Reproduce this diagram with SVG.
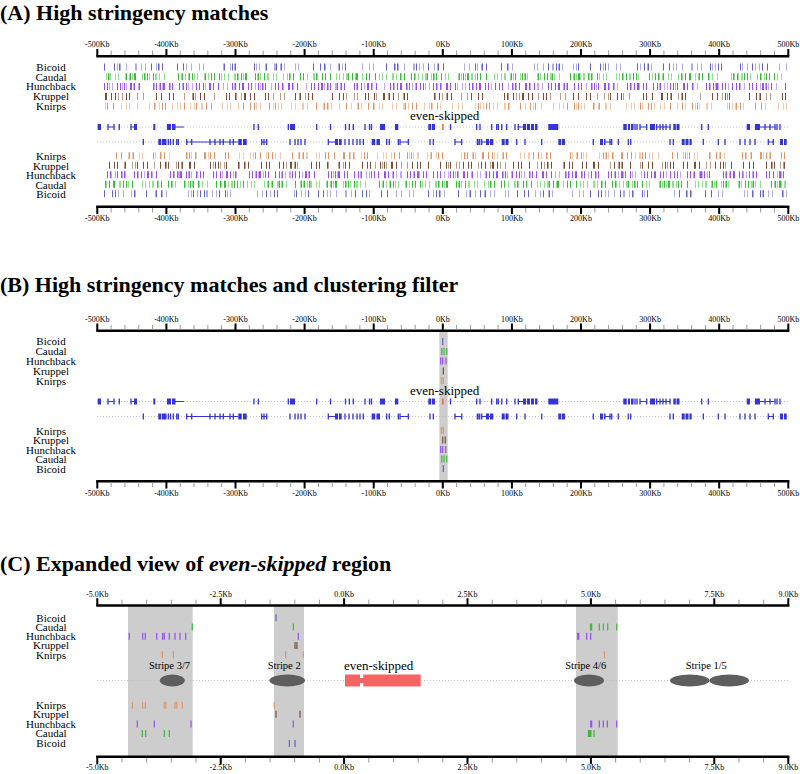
<svg xmlns="http://www.w3.org/2000/svg" width="800" height="774" viewBox="0 0 800 774">
<style>
text{font-family:"Liberation Serif","Times New Roman",serif;fill:#000}
.t{font-size:22px;font-weight:bold}
.ax{font-size:8px;text-anchor:middle}
.rl{font-size:11px;text-anchor:middle}
.sl{font-size:10.5px;text-anchor:middle}
.axl{stroke:#000;stroke-width:2.4;fill:none}
.maj{stroke:#000;stroke-width:2;fill:none}
.mnA{stroke:#9a9a9a;stroke-width:4.5;stroke-dasharray:1 12.82;stroke-dashoffset:0.5;fill:none}
.mnC{stroke:#9a9a9a;stroke-width:4.5;stroke-dasharray:1 23.68;stroke-dashoffset:0.5;fill:none}
.dot{stroke:#b4b4c4;stroke-width:0.8;stroke-dasharray:1 2;fill:none}
.gb{fill:#3434d8}
.gt{stroke:#3434d8;stroke-width:1.3;fill:none}
.gi{stroke:#3434d8;stroke-width:1;fill:none}
.m{stroke-width:7;fill:none}
.s{stroke-width:1.2;fill:none}
.bd{stroke:#6262cc}.bl{stroke:#adade8}
.cd{stroke:#3cb83c}.cl{stroke:#92de92}
.hd{stroke:#9650f0}.hl{stroke:#c6a8f6}
.kd{stroke:#7c4e3a}.kl{stroke:#bc9c8c}
.nd{stroke:#e0956a}.nl{stroke:#f4caae}
.p1{stroke-dasharray:1 4 1 2 1 9 1 3 1 6 2 3 1 15 1 4 1 2 1 7 1 11 1 5 1 3 1 12}
.p2{stroke-dasharray:1 6 1 3 1 21 1 2 1 5 1 8 2 4 1 3 1 10 1 2 1 26 1 4 1 7 1 3 1 19}
.p3{stroke-dasharray:1 2 1 3 1 2 2 4 1 2 1 6 1 3 1 2 1 9 1 2 1 3 1 5 2 2 1 4 1 13}
.p4{stroke-dasharray:1 5 1 2 1 4 1 17 1 3 1 3 2 8 1 2 1 5 1 24 1 3 1 6 1 2 1 12}
.p5{stroke-dasharray:1 9 1 4 1 31 1 6 1 3 1 14 1 5 1 40 1 7 1 2 1 18 1 11}
.band{fill:#cdcdcd}
.enh{fill:#5e5e5e}
.eve{fill:#f56464}
</style>
<defs>
<g id="axesAB">
<line class="axl" x1="96.3" y1="56.2" x2="789.3" y2="56.2"/>
<line class="mnA" x1="97.3" y1="52.7" x2="788.3" y2="52.7"/>
<path class="maj" d="M97.3 49v7.5M166.4 49v7.5M235.5 49v7.5M304.6 49v7.5M373.7 49v7.5M442.8 49v7.5M511.9 49v7.5M581 49v7.5M650.1 49v7.5M719.2 49v7.5M788.3 49v7.5"/>
<g class="ax">
<text x="97.3" y="47.3">-500Kb</text><text x="166.4" y="47.3">-400Kb</text><text x="235.5" y="47.3">-300Kb</text><text x="304.6" y="47.3">-200Kb</text><text x="373.7" y="47.3">-100Kb</text><text x="442.8" y="47.3">0Kb</text><text x="511.9" y="47.3">100Kb</text><text x="581" y="47.3">200Kb</text><text x="650.1" y="47.3">300Kb</text><text x="719.2" y="47.3">400Kb</text><text x="788.3" y="47.3">500Kb</text>
</g>
<line class="axl" x1="96.3" y1="206.7" x2="789.3" y2="206.7"/>
<line class="mnA" x1="97.3" y1="210.2" x2="788.3" y2="210.2"/>
<path class="maj" d="M97.3 206v8M166.4 206v8M235.5 206v8M304.6 206v8M373.7 206v8M442.8 206v8M511.9 206v8M581 206v8M650.1 206v8M719.2 206v8M788.3 206v8"/>
<g class="ax">
<text x="97.3" y="221.3">-500Kb</text><text x="166.4" y="221.3">-400Kb</text><text x="235.5" y="221.3">-300Kb</text><text x="304.6" y="221.3">-200Kb</text><text x="373.7" y="221.3">-100Kb</text><text x="442.8" y="221.3">0Kb</text><text x="511.9" y="221.3">100Kb</text><text x="581" y="221.3">200Kb</text><text x="650.1" y="221.3">300Kb</text><text x="719.2" y="221.3">400Kb</text><text x="788.3" y="221.3">500Kb</text>
</g>
</g>
<g id="labelsAB" class="rl">
<text x="51" y="70.7">Bicoid</text><text x="51" y="80.5">Caudal</text><text x="51" y="90.3">Hunchback</text><text x="51" y="100.2">Kruppel</text><text x="51" y="110">Knirps</text>
<text x="51" y="160">Knirps</text><text x="51" y="169.5">Kruppel</text><text x="51" y="179">Hunchback</text><text x="51" y="188.5">Caudal</text><text x="51" y="198">Bicoid</text>
</g>
<g id="genes">
<line class="dot" x1="97" y1="127" x2="788" y2="127"/>
<line class="dot" x1="97" y1="142" x2="788" y2="142"/>
<path class="gi" d="M108 127H114M131 127H134M175 127H184M518 127H523M640 127H647M656.7 127H670M760 127H775M186.7 142H238.3M328.3 142H335M400 142H408.3M455 142H461.7M481.7 142H490M604 142H611.7M768.3 142H773.3M261.7 142H266.7"/>
<path class="gt" d="M108 124v6M114 124v6M119.3 124v6M131 124v6M254 124v6M258.3 124v6M288.3 124v6M316.7 124v6M330.5 124v6M345.5 124v6M349.3 124v6M353.3 124v6M365 124v6M369.5 124v6M371.5 124v6M450.5 124v6M476.7 124v6M480 124v6M491.7 124v6M496.7 124v6M498.3 124v6M501.7 124v6M506.7 124v6M515 124v6M518.3 124v6M635 124v6M637 124v6M640 124v6M646.7 124v6M656.7 124v6M660 124v6M663 124v6M666 124v6M670 124v6M701.7 124v6M708.3 124v6M765 124v6M770 124v6M775 124v6M777 124v6M780 124v6"/>
<path class="gt" d="M143.3 139v6M168.3 139v6M170.5 139v6M173.3 139v6M176.7 139v6M178.3 139v6M186.7 139v6M191.7 139v6M210 139v6M215 139v6M220 139v6M223.3 139v6M230 139v6M233.3 139v6M261.7 139v6M264 139v6M266.7 139v6M290 139v6M295 139v6M298 139v6M301 139v6M305 139v6M328.3 139v6M345 139v6M349 139v6M353 139v6M357 139v6M360 139v6M363.3 139v6M386.7 139v6M389.3 139v6M398.3 139v6M400 139v6M408.3 139v6M430 139v6M433.3 139v6M455 139v6M461.7 139v6M479.7 139v6M481.7 139v6M516.7 139v6M525 139v6M541.7 139v6M593.3 139v6M610 139v6M611.7 139v6M618.3 139v6M628.3 139v6M630.7 139v6M670 139v6M673.3 139v6M703.3 139v6M718.3 139v6M725 139v6M740 139v6M745 139v6M750 139v6M755 139v6M768.3 139v6M773.3 139v6"/>
<path class="gb" d="M97.7 124h3.3v6h-3.3zM134 124h3v6h-3zM153.3 124h2v6h-2zM167 124h4v6h-4zM172 124h3.5v6h-3.5zM290 124h5v6h-5zM380 124h5v6h-5zM395 124h3.3v6h-3.3zM428.3 124h3v6h-3zM432 124h3v6h-3zM523 124h3v6h-3zM527 124h3v6h-3zM531 124h3v6h-3zM535 124h2.5v6h-2.5zM548.3 124h10v6h-10zM623.3 124h3.5v6h-3.5zM628 124h2v6h-2zM631 124h2.5v6h-2.5zM650 124h5v6h-5zM673.3 124h2.5v6h-2.5zM676.5 124h3v6h-3zM746.7 124h3.3v6h-3.3zM755 124h5v6h-5z"/>
<path class="gb" d="M158.3 139h3v6h-3zM162 139h4.5v6h-4.5zM238.3 139h3.5v6h-3.5zM243 139h3.7v6h-3.7zM335 139h3v6h-3zM339 139h2.7v6h-2.7zM371.7 139h3.5v6h-3.5zM376.5 139h3.5v6h-3.5zM476.7 139h2v6h-2zM486 139h3v6h-3zM490 139h3.3v6h-3.3zM501.7 139h3v6h-3zM505.5 139h3v6h-3zM558.3 139h3v6h-3zM562 139h3v6h-3zM600 139h3v6h-3zM604 139h1.5v6h-1.5zM681.7 139h3v6h-3zM685.5 139h3v6h-3zM689.5 139h2.2v6h-2.2zM780 139h3v6h-3zM784 139h2.7v6h-2.7z"/>
<path d="M442.9 124v6" stroke="#e2704c" stroke-width="1.6" fill="none"/>
<text x="410" y="120" style="font-size:13px">even-skipped</text>
</g>
</defs>

<g id="panelA">
<text class="t" x="0" y="19.5">(A) High stringency matches</text>
<use href="#axesAB"/>
<use href="#labelsAB"/>
<g id="matchesA">
<line class="m bl p2" x1="104" y1="67" x2="787" y2="67" stroke-dashoffset="20"/>
<line class="m bd p5" x1="104" y1="67" x2="787" y2="67" stroke-dashoffset="0"/>
<line class="m cl p3" x1="104" y1="76.8" x2="787" y2="76.8" stroke-dashoffset="5"/>
<line class="m cd p4" x1="104" y1="76.8" x2="787" y2="76.8" stroke-dashoffset="10"/>
<line class="m hl p1" x1="104" y1="86.6" x2="787" y2="86.6" stroke-dashoffset="0"/>
<line class="m hd p3" x1="104" y1="86.6" x2="787" y2="86.6" stroke-dashoffset="30"/>
<line class="m kl p5" x1="104" y1="96.4" x2="787" y2="96.4" stroke-dashoffset="40"/>
<line class="m kd p2" x1="104" y1="96.4" x2="787" y2="96.4" stroke-dashoffset="50"/>
<line class="m nl p1" x1="104" y1="106.2" x2="787" y2="106.2" stroke-dashoffset="33"/>
<line class="m nd p5" x1="104" y1="106.2" x2="787" y2="106.2" stroke-dashoffset="70"/>
<line class="m nl p4" x1="104" y1="155.8" x2="787" y2="155.8" stroke-dashoffset="60"/>
<line class="m nd p2" x1="104" y1="155.8" x2="787" y2="155.8" stroke-dashoffset="90"/>
<line class="m kl p5" x1="104" y1="165.3" x2="787" y2="165.3" stroke-dashoffset="100"/>
<line class="m kd p1" x1="104" y1="165.3" x2="787" y2="165.3" stroke-dashoffset="45"/>
<line class="m hl p4" x1="104" y1="174.8" x2="787" y2="174.8" stroke-dashoffset="77"/>
<line class="m hd p3" x1="104" y1="174.8" x2="787" y2="174.8" stroke-dashoffset="13"/>
<line class="m cl p3" x1="104" y1="184.3" x2="787" y2="184.3" stroke-dashoffset="41"/>
<line class="m cd p4" x1="104" y1="184.3" x2="787" y2="184.3" stroke-dashoffset="31"/>
<line class="m bl p2" x1="104" y1="193.8" x2="787" y2="193.8" stroke-dashoffset="88"/>
<line class="m bd p5" x1="104" y1="193.8" x2="787" y2="193.8" stroke-dashoffset="120"/>
</g>
<use href="#genes"/>
</g>

<g id="panelB">
<text class="t" x="0" y="292">(B) High stringency matches and clustering filter</text>
<rect class="band" x="439.3" y="331" width="8.4" height="150"/>
<use href="#axesAB" transform="translate(0,274.5)"/>
<use href="#labelsAB" transform="translate(0,274.5)"/>
<g id="matchesB">
<path class="s bd" d="M442.7 338v7M443.3 465v7"/>
<path class="s cd" d="M441.7 348v7M444 348v7M446.7 348v7M441.7 455.5v7M444 455.5v7M446.7 455.5v7"/>
<path class="s hd" d="M440.7 357.6v7M442.7 357.6v7M446 357.6v7M440.7 446v7M442.7 446v7M445.7 446v7"/>
<path class="s kd" d="M443.3 367.4v7M442.7 436.5v7M445.3 436.5v7"/>
<path class="s nd" d="M441.3 377.2v7M443.3 377.2v7M441.3 427v7M443.3 427v7"/>
</g>
<use href="#genes" transform="translate(0,274.5)"/>
</g>

<g id="panelC">
<text class="t" x="0" y="570.5">(C) Expanded view of <tspan font-style="italic">even-skipped</tspan> region</text>
<rect class="band" x="128" y="606" width="64.7" height="150"/>
<rect class="band" x="274" y="606" width="30" height="150"/>
<rect class="band" x="576" y="606" width="41.7" height="150"/>
<g id="axisC">
<line class="axl" x1="96.3" y1="605.5" x2="789.3" y2="605.5"/>
<line class="mnC" x1="97.3" y1="602" x2="788.3" y2="602"/>
<path class="maj" d="M97.3 598.3v7.5M220.7 598.3v7.5M344.1 598.3v7.5M467.5 598.3v7.5M590.9 598.3v7.5M714.3 598.3v7.5M788.3 598.3v7.5"/>
<g class="ax">
<text x="97.3" y="596.7">-5.0Kb</text><text x="220.7" y="596.7">-2.5Kb</text><text x="344.1" y="596.7">0.0Kb</text><text x="467.5" y="596.7">2.5Kb</text><text x="590.9" y="596.7">5.0Kb</text><text x="714.3" y="596.7">7.5Kb</text><text x="788.3" y="596.7">9.0Kb</text>
</g>
<line class="axl" x1="96.3" y1="756.7" x2="789.3" y2="756.7"/>
<line class="mnC" x1="97.3" y1="760.2" x2="788.3" y2="760.2"/>
<path class="maj" d="M97.3 756v8M220.7 756v8M344.1 756v8M467.5 756v8M590.9 756v8M714.3 756v8M788.3 756v8"/>
<g class="ax">
<text x="97.3" y="770">-5.0Kb</text><text x="220.7" y="770">-2.5Kb</text><text x="344.1" y="770">0.0Kb</text><text x="467.5" y="770">2.5Kb</text><text x="590.9" y="770">5.0Kb</text><text x="714.3" y="770">7.5Kb</text><text x="788.3" y="770">9.0Kb</text>
</g>
</g>
<g id="labelsC" class="rl">
<text x="51" y="621.5">Bicoid</text><text x="51" y="630.8">Caudal</text><text x="51" y="640">Hunchback</text><text x="51" y="649.3">Kruppel</text><text x="51" y="658.5">Knirps</text>
<text x="51" y="709">Knirps</text><text x="51" y="718">Kruppel</text><text x="51" y="727.7">Hunchback</text><text x="51" y="737.3">Caudal</text><text x="51" y="747.3">Bicoid</text>
</g>
<g id="matchesC">
<path class="s bd" d="M276 614.2v7M289.3 740v7M295 740v7"/>
<path class="s cd" d="M192.3 623.5v7M293.3 623.5v7M590.5 623.5v7M591.7 623.5v7M599.3 623.5v7M603.3 623.5v7M607.7 623.5v7M616.7 623.5v7M142.3 730v7M145.7 730v7M164.3 730v7M169.3 730v7M588.5 730v7M589.7 730v7M590.9 730v7M594 730v7"/>
<path class="s hd" d="M129.3 632.8v7M142.7 632.8v7M145.3 632.8v7M156.7 632.8v7M162.7 632.8v7M164.3 632.8v7M169.3 632.8v7M175 632.8v7M180 632.8v7M185.7 632.8v7M298.3 632.8v7M577.7 632.8v7M578.7 632.8v7M586.7 632.8v7M590.7 632.8v7M137.3 720.5v7M154.3 720.5v7M191 720.5v7M293.3 720.5v7M590.7 720.5v7M591.7 720.5v7M599.3 720.5v7M603.3 720.5v7M607.3 720.5v7M616.7 720.5v7"/>
<path class="s kd" d="M295 642v7M296.9 642v7M276 710.8v7M300 710.8v7"/>
<path class="s nd" d="M162.3 651.2v7M173.3 651.2v7M285.7 651.2v7M303.3 651.2v7M604.3 651.2v7M132.3 701.7v7M142.7 701.7v7M145.3 701.7v7M164.3 701.7v7M165.9 701.7v7M175 701.7v7M176.7 701.7v7M182.3 701.7v7M274.3 701.7v7"/>
</g>
<g id="geneC">
<line class="dot" x1="97" y1="680.5" x2="788" y2="680.5" style="stroke:#bbbbbb"/>
<rect class="eve" x="345" y="674.5" width="15" height="12"/>
<rect class="eve" x="359.5" y="678" width="4.5" height="5"/>
<rect class="eve" x="363.3" y="674.5" width="57.4" height="12"/>
<text x="344" y="670" style="font-size:13px">even-skipped</text>
</g>
<g id="stripe37"><ellipse class="enh" cx="172.3" cy="680.5" rx="12.5" ry="6"/><text class="sl" x="169.5" y="668.5">Stripe 3/7</text></g>
<g id="stripe2"><ellipse class="enh" cx="287.2" cy="680.5" rx="17.8" ry="6"/><text class="sl" x="284.2" y="668.5">Stripe 2</text></g>
<g id="stripe46"><ellipse class="enh" cx="589" cy="680.5" rx="15" ry="6"/><text class="sl" x="585.7" y="668.5">Stripe 4/6</text></g>
<g id="stripe15"><ellipse class="enh" cx="689.7" cy="680.5" rx="19.7" ry="6"/><ellipse class="enh" cx="729.2" cy="680.5" rx="19.8" ry="6"/><text class="sl" x="706.3" y="668.5">Stripe 1/5</text></g>
</g>
</svg>
